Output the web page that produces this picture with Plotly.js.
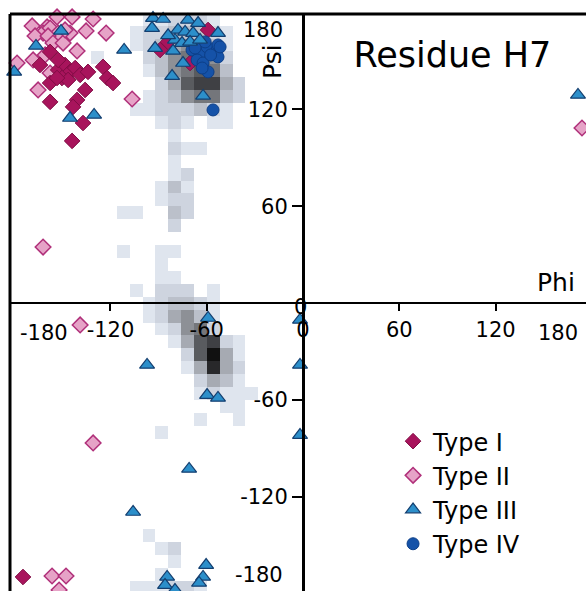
<!DOCTYPE html>
<html>
<head>
<meta charset="utf-8">
<script src="https://cdn.plot.ly/plotly-3.0.1.min.js"></script>
<style>html,body{margin:0;padding:0;background:#fff;}#chart{width:586px;height:591px;}</style>
</head>
<body>
<div id="chart"></div>
<script>
// ---- Data (phi, psi in degrees) ----
const typeI_phi = [-163.9,-152.6,-148.3,-145.2,-142,-150.2,-146.4,-138.9,-124.6,-134,-122.1,-118.4,-135.8,-140.8,-157.6,-143.3,-137.1,-143.9,-157.6,-153.3,-152.6,-157.6,-84.1,-59.2,-70.4,-89.1,-174.5];
const typeI_psi = [147.6,144.5,147.6,143.3,145.7,139.5,138.3,141.4,146.4,143.3,139.5,136.4,132.1,125.9,124.7,121.6,111.6,100.5,136.4,139.5,150.7,155.7,161.9,169.3,148.8,156.9,-169.9];

const typeII_phi = [-153.3,-143.9,-130.8,-168.8,-135.2,-122.7,-159.5,-162,-167,-151.4,-145.2,-157.6,-152.6,-158.9,-155.8,-149.5,-140.8,-168.2,-178.2,-157.6,-165.1,-106.5,-160.7,-148.3,-162,173.8,-138.9,-130.8,-156.4,-147.7,-152];
const typeII_psi = [177.4,177.4,176.1,171.8,168.7,167.4,171.2,167.4,165.6,163.1,167.4,170.5,167.4,165.6,161.2,161.2,156.3,150.7,148.8,142.6,132.1,126.5,153.8,169.3,34.7,108.5,-13.6,-86.8,-169.3,-169.3,-178];

const typeIII_phi = [-150.8,-166.4,-111.5,-180,-145.2,-130.2,-93.5,-87.2,-94.1,-92.2,-77.9,-71.7,-65.4,-73.5,-68.5,-79.8,-75.4,-70.4,-64.2,-53,-81,-74.8,-81.6,-62.3,-84.1,171.3,-59.2,-59.8,-53,-97.2,-1.9,-1.9,-1.9,-71,-105.9,-60.4,-62.3,-64.8,-84.7,-86,-79.8];
const typeIII_psi = [168.7,159.4,156.9,143.3,114.7,116.6,176.7,176.1,170.5,158.1,169.3,175.5,173.6,168.1,167.4,163.1,161.2,161.9,163.1,167.4,156.3,148.8,140.7,128.4,166,129,-9.3,-57.1,-58.9,-38.4,-10.5,-38.4,-81.9,-102.9,-129.6,-162.5,-169.9,-173.6,-169.9,-174.9,-178];

const typeIV_phi = [-69.2,-64.2,-59.8,-53.6,-53,-66,-62.3,-59.2,-53,-56.1,-57.6,-61,-62.9,-67.3,-51.7];
const typeIV_psi = [156.9,155,158.8,156.9,160,150.7,148.8,143.3,152.6,119.7,153.8,161.9,145.7,158.1,158.8];

// background density cells (8 degree bins): centre phi, centre psi, level 1..10
const cellPhi = [-96,-88,-80,-72,-64,-56, -104,-96,-88,-80,-72,-64,-56,-48, -104,-96,-88,-80,-72,-64,-56,-48, -96,-88,-80,-72,-64,-56,-48, -96,-88,-80,-72,-64,-56,-48, -88,-80,-72,-64,-56,-48,-40, -96,-88,-80,-72,-64,-56,-48,-40, -104,-96,-88,-80,-72,-64,-56,-48, -88,-80,-72,-56,-48, -80, -80,-72,-64, -80, -80,-72, -88,-80,-72, -88,-80,-72, -112,-104,-80,-72, -80, -112,-88,-80, -88, -88,-80, -104,-88,-80,-72,-56, -96,-88,-80,-72,-64,-56, -96,-88,-80,-72,-64,-56, -88,-80,-72,-64,-56, -80,-72,-64,-56,-48,-40, -72,-64,-56,-48,-40, -72,-64,-56,-48,-40, -64,-56,-48,-40, -64,-56,-48,-40,-32, -48,-40, -64,-40, -88, -96, -88,-80, -80, -88, -104,-96,-88,-80,-72,-64, -128];
const cellPsi = [176,176,176,176,176,176, 168,168,168,168,168,168,168,168, 160,160,160,160,160,160,160,160, 152,152,152,152,152,152,152, 144,144,144,144,144,144,144, 136,136,136,136,136,136,136, 128,128,128,128,128,128,128,128, 120,120,120,120,120,120,120,120, 112,112,112,112,112, 104, 96,96,96, 88, 80,80, 72,72,72, 64,64,64, 56,56,56,56, 48, 32,32,32, 24, 16,16, 8,8,8,8,8, 0,0,0,0,0,0, -8,-8,-8,-8,-8,-8, -16,-16,-16,-16,-16, -24,-24,-24,-24,-24,-24, -32,-32,-32,-32,-32, -40,-40,-40,-40,-40, -48,-48,-48,-48, -56,-56,-56,-56,-56, -64,-64, -72,-72, -80, -144, -152,-152, -160, -168, -176,-176,-176,-176,-176,-176, 152];
const cellLevel = [1,1,2,2,2,1, 1,2,2,3,3,3,2,1, 1,2,3,4,5,5,3,1, 2,3,5,6,6,5,2, 1,3,5,6,7,6,3, 2,4,7,8,8,4,2, 1,2,3,5,6,6,3,2, 1,1,2,2,2,3,2,1, 1,2,1,1,1, 1, 2,1,1, 1, 1,2, 1,3,1, 1,2,2, 1,1,3,2, 2, 1,1,1, 1, 1,1, 1,2,2,2,1, 1,2,3,3,2,1, 1,2,4,5,3,1, 1,2,5,6,2, 1,4,7,8,2,1, 2,7,10,4,1, 1,4,9,4,2, 2,4,3,1, 1,2,1,1,1, 1,1, 1,1, 1, 1, 1,2, 1, 1, 1,1,1,2,2,1, 1];

const xTickVals = [-120,-60,0,60,120];
const xTickText = ['-120','-60','0','60','120'];
const yTickVals = [-120,-60,60,120];
const yTickText = ['-120','-60','60','120'];

// ---- build heatmap grid ----
const binCentres = [];
for (let v = -176; v <= 176; v += 8) binCentres.push(v);
const zGrid = binCentres.map(() => binCentres.map(() => null));
for (let i = 0; i < cellPhi.length; i++) {
  const c = binCentres.indexOf(cellPhi[i]);
  const r = binCentres.indexOf(cellPsi[i]);
  if (c >= 0 && r >= 0) zGrid[r][c] = cellLevel[i];
}

const xRange = [-182.6, 176.3];
const yRange = [-178.6, 179.2];
const xPos = (0 - yRange[0]) / (yRange[1] - yRange[0]);
const yPos = (0 - xRange[0]) / (xRange[1] - xRange[0]);

const FONT = 'DejaVu Sans';

const traces = [
  {type:'heatmap', x: binCentres, y: binCentres, z: zGrid, zmin:1, zmax:10, showscale:false, hoverinfo:'skip',
   colorscale:[[0,'#dfe5ee'],[0.12,'#cdd3de'],[0.3,'#aeb2ba'],[0.55,'#75777c'],[0.8,'#3a3b3e'],[1,'#111111']]},
  {type:'scatter', mode:'markers', name:'Type II', legendrank:2, x: typeII_phi, y: typeII_psi, cliponaxis:false,
   marker:{symbol:'diamond', size:12, color:'#e6a3c7', line:{color:'#b0307a', width:1.5}}},
  {type:'scatter', mode:'markers', name:'Type I', legendrank:1, x: typeI_phi, y: typeI_psi, cliponaxis:false,
   marker:{symbol:'diamond', size:12, color:'#a8145c', line:{color:'#800c44', width:1}}},
  {type:'scatter', mode:'markers', name:'Type IV', legendrank:4, x: typeIV_phi, y: typeIV_psi, cliponaxis:false,
   marker:{symbol:'circle', size:12, color:'#1552a8', line:{color:'#0d3f88', width:1}}},
  {type:'scatter', mode:'markers', name:'Type III', legendrank:3, x: typeIII_phi, y: typeIII_psi, cliponaxis:false,
   marker:{symbol:'triangle-up', size:13, color:'#2c8fca', line:{color:'#143f70', width:1.2}}}
];

const axisCommon = {showgrid:false, zeroline:false, fixedrange:true};

const layout = {
  width:586, height:591,
  margin:{l:10, r:0, t:14, b:0},
  paper_bgcolor:'#ffffff', plot_bgcolor:'#ffffff',
  font:{family:FONT, color:'#000'},
  title:{text:'Residue H7', font:{family:FONT, size:35, color:'#000'}, xref:'container', yref:'container', x:0.772, y:0.907, xanchor:'center', yanchor:'middle'},
  showlegend:true,
  legend:{x:0.665, y:0.298, xanchor:'left', yanchor:'top', bgcolor:'rgba(0,0,0,0)', font:{family:FONT, size:24, color:'#000'}, traceorder:'normal', itemclick:false},
  xaxis: Object.assign({}, axisCommon, {range:xRange, anchor:'free', position:xPos, showline:true, linecolor:'#000', linewidth:2.5,
    tickmode:'array', tickvals:xTickVals, ticktext:xTickText, ticks:'outside', ticklen:7, tickwidth:2, tickcolor:'#000',
    tickfont:{family:FONT, size:21, color:'#000'}}),
  xaxis2: Object.assign({}, axisCommon, {range:xRange, overlaying:'x', anchor:'free', position:xPos, showline:false,
    tickmode:'array', tickvals:[-120,-60,60,120], ticks:'inside', ticklen:6, tickwidth:2, tickcolor:'#000', showticklabels:false}),
  yaxis: Object.assign({}, axisCommon, {range:yRange, anchor:'free', position:yPos, showline:true, linecolor:'#000', linewidth:2.5,
    tickmode:'array', tickvals:yTickVals, ticktext:yTickText, ticks:'outside', ticklen:10, tickwidth:2, tickcolor:'#000',
    tickfont:{family:FONT, size:21, color:'#000'}}),
  shapes:[
    {type:'line', xref:'paper', yref:'paper', x0:0, x1:1, y0:1, y1:1, line:{color:'#000', width:3}},
    {type:'line', xref:'paper', yref:'paper', x0:0, x1:0, y0:0, y1:1, line:{color:'#000', width:3}}
  ],
  annotations:[
    {text:'-180', xref:'x', yref:'y', x:-180, y:0, xanchor:'left', yanchor:'middle', xshift:4, yshift:-30, showarrow:false, font:{family:FONT, size:21, color:'#000'}},
    {text:'180', xref:'paper', yref:'y', x:1, y:0, xanchor:'right', yanchor:'middle', xshift:-6, yshift:-30, showarrow:false, font:{family:FONT, size:21, color:'#000'}},
    {text:'180', xref:'x', yref:'paper', x:0, y:1, xanchor:'right', yanchor:'middle', xshift:-18, yshift:-16, showarrow:false, font:{family:FONT, size:21, color:'#000'}},
    {text:'-180', xref:'x', yref:'paper', x:0, y:0, xanchor:'right', yanchor:'middle', xshift:-18, yshift:16, showarrow:false, font:{family:FONT, size:21, color:'#000'}},
    {text:'0', xref:'x', yref:'y', x:0, y:0, xanchor:'center', yanchor:'middle', xshift:-3, yshift:-4, showarrow:false, font:{family:FONT, size:21, color:'#000'}},
    {text:'Phi', xref:'x', yref:'y', x:157.6, y:12.4, xanchor:'center', yanchor:'middle', showarrow:false, font:{family:FONT, size:25, color:'#000'}},
    {text:'Psi', xref:'x', yref:'y', x:-18.7, y:149.5, xanchor:'center', yanchor:'middle', textangle:-90, showarrow:false, font:{family:FONT, size:25, color:'#000'}}
  ]
};

Plotly.newPlot('chart', traces, layout, {displayModeBar:false, staticPlot:true});
</script>
</body>
</html>
